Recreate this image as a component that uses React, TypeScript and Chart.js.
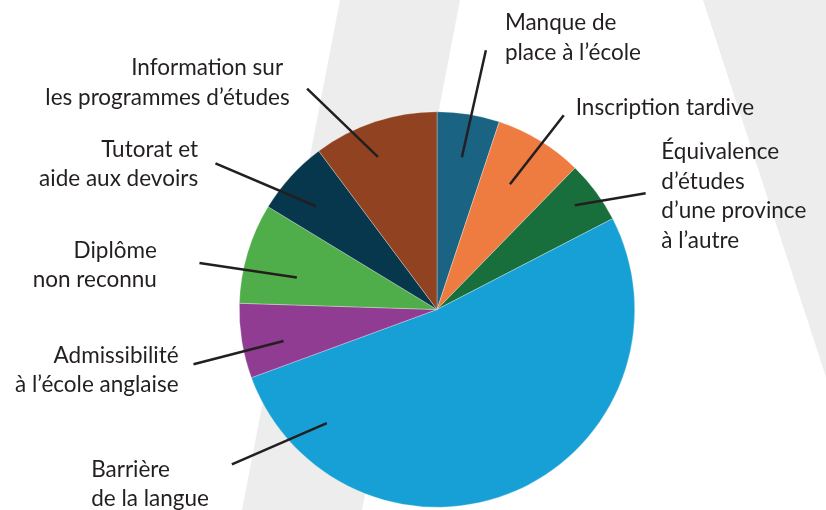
import React, { useEffect, useRef } from "react";
import { Chart, registerables } from "chart.js";

Chart.register(...registerables);

// ---- data ----
const categories = [
  "Manque de place à l’école",
  "Inscription tardive",
  "Équivalence d’études d’une province à l’autre",
  "Barrière de la langue",
  "Admissibilité à l’école anglaise",
  "Diplôme non reconnu",
  "Tutorat et aide aux devoirs",
  "Information sur les programmes d’études",
];
const values = [5.1, 7.2, 5.1, 52.0, 6.1, 8.2, 6.1, 10.2];
const sliceColors = [
  "#1b6383",
  "#ee7b3f",
  "#186f3b",
  "#17a0d5",
  "#8f3c92",
  "#50ae4a",
  "#07374c",
  "#914220",
];
const labelLines = [
  ["Manque de", "place à l’école"],
  ["Inscription tardive"],
  ["Équivalence", "d’études", "d’une province", "à l’autre"],
  ["Barrière", "de la langue"],
  ["Admissibilité", "à l’école anglaise"],
  ["Diplôme", "non reconnu"],
  ["Tutorat et", "aide aux devoirs"],
  ["Information sur", "les programmes d’études"],
];

// ---- leader / label layout (relative to each slice's geometry) ----
// [angle offset from slice middle (deg), fraction of radius]
const leaderInner = [
  [0.1, 0.78], [-1.1, 0.733], [-0.56, 0.874], [67.9, 0.8],
  [-2.4, 0.792], [-3.7, 0.727], [-1.8, 0.804], [-2.8, 0.828],
];
const leaderOuter = [
  [1.5, 1.334], [1.8, 1.173], [7.4, 1.208], [76.7, 1.3],
  [-3.5, 1.262], [-5.5, 1.224], [-8.9, 1.342], [-12.1, 1.296],
];
// text anchor relative to the outer end of the leader: [dx, dy(first baseline), align]
const labelAnchor: [number, number, CanvasTextAlign][] = [
  [19, -20, "left"], [12, -0.7, "left"], [15.7, -34, "left"], [-140.7, 12.3, "left"],
  [-15, -1.6, "right"], [-42.6, -5.4, "right"], [-17.3, -6.6, "right"], [-17.4, -13.3, "right"],
];
const lineShift = [[0, 0], [0], [0, 0, 0, 0], [0, 0], [0, 0], [0, 0], [0, 0], [-6.6, 0]];

const FONT = "22.5px Lato, 'Open Sans', sans-serif";
const LINE_H = 29.5;
const INK = "#231f20";

const backdropPlugin = {
  id: "backdrop",
  beforeDraw(chart: any) {
    const { ctx, width, height } = chart;
    ctx.save();
    ctx.fillStyle = "#ffffff";
    ctx.fillRect(0, 0, width, height);
    ctx.fillStyle = "#ededed";
    ctx.beginPath();
    ctx.moveTo(340, 0);
    ctx.lineTo(460, 0);
    ctx.lineTo(362, height);
    ctx.lineTo(242, height);
    ctx.closePath();
    ctx.fill();
    ctx.beginPath();
    ctx.moveTo(703, 0);
    ctx.lineTo(width, 0);
    ctx.lineTo(width, 377);
    ctx.closePath();
    ctx.fill();
    ctx.restore();
  },
};

const leaderPlugin = {
  id: "leaders",
  afterDatasetsDraw(chart: any) {
    const { ctx } = chart;
    const meta = chart.getDatasetMeta(0);
    ctx.save();
    meta.data.forEach((arc: any, i: number) => {
      const { x: cx, y: cy, startAngle, endAngle, outerRadius } = arc.getProps(
        ["x", "y", "startAngle", "endAngle", "outerRadius"],
        true
      );
      const mid = (startAngle + endAngle) / 2;
      const toRad = Math.PI / 180;
      const a1 = mid + leaderInner[i][0] * toRad;
      const r1 = outerRadius * leaderInner[i][1];
      const a2 = mid + leaderOuter[i][0] * toRad;
      const r2 = outerRadius * leaderOuter[i][1];
      const x1 = cx + r1 * Math.cos(a1);
      const y1 = cy + r1 * Math.sin(a1);
      const x2 = cx + r2 * Math.cos(a2);
      const y2 = cy + r2 * Math.sin(a2);
      ctx.strokeStyle = INK;
      ctx.lineWidth = 2.5;
      ctx.beginPath();
      ctx.moveTo(x1, y1);
      ctx.lineTo(x2, y2);
      ctx.stroke();

      const [dx, dy, align] = labelAnchor[i];
      ctx.fillStyle = INK;
      ctx.font = FONT;
      ctx.textAlign = align;
      ctx.textBaseline = "alphabetic";
      labelLines[i].forEach((line, j) => {
        ctx.fillText(line, x2 + dx + (lineShift[i][j] || 0), y2 + dy + j * LINE_H);
      });
    });
    ctx.restore();
  },
};

export default function App() {
  const ref = useRef<HTMLCanvasElement | null>(null);

  useEffect(() => {
    let chart: Chart | null = null;
    let cancelled = false;
    const make = () => {
      if (cancelled || !ref.current) return;
      chart = new Chart(ref.current, {
        type: "pie",
        data: {
          labels: categories,
          datasets: [
            {
              data: values,
              backgroundColor: sliceColors,
              borderColor: "rgba(255,255,255,0.6)",
              borderWidth: 0.5,
            },
          ],
        },
        options: {
          animation: false,
          responsive: false,
          maintainAspectRatio: false,
          devicePixelRatio: 1,
          layout: { padding: { left: 239, right: 191, top: 111.5, bottom: 2.5 } },
          plugins: {
            legend: { display: false },
            tooltip: { enabled: false },
          },
        },
        plugins: [backdropPlugin, leaderPlugin],
      });
    };
    const fonts: any = (document as any).fonts;
    if (fonts && fonts.load) {
      fonts.load(FONT).then(make, make);
    } else {
      make();
    }
    return () => {
      cancelled = true;
      if (chart) chart.destroy();
    };
  }, []);

  return (
    <div style={{ position: "fixed", left: 0, top: 0, width: 826, height: 510 }}>
      <canvas ref={ref} width={826} height={510} style={{ width: 826, height: 510, display: "block" }} />
    </div>
  );
}
